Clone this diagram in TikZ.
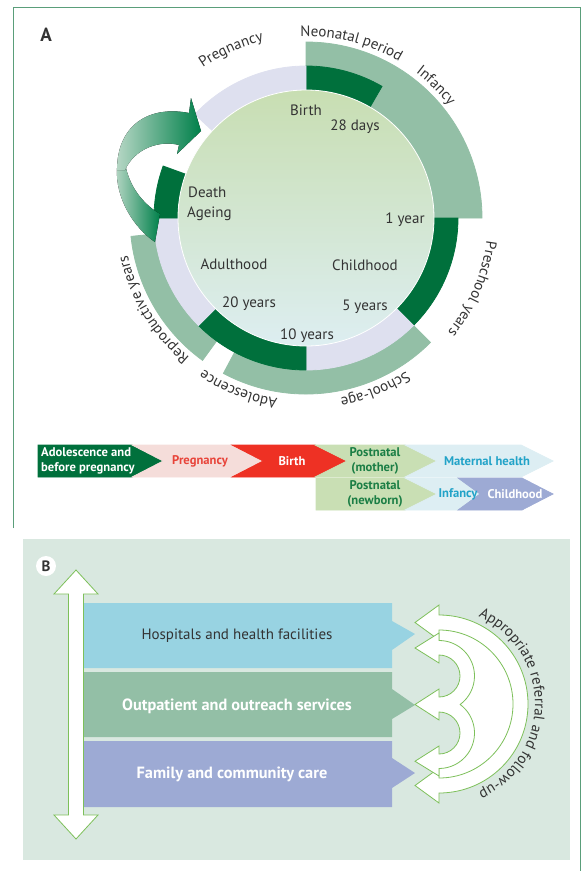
\documentclass[tikz,border=0pt]{standalone}
\usepackage{fontspec}
\setmainfont{PT Sans}
\usepackage{xcolor}
\definecolor{lcgreen}{HTML}{00703C}
\definecolor{lcmid}{HTML}{93BFA6}
\definecolor{lclav}{HTML}{DEE0EF}
\definecolor{lccore}{HTML}{C8DEB2}
\definecolor{lccorelow}{HTML}{DDEEF1}
\definecolor{lcfade}{HTML}{B5D6C4}
\definecolor{lcarrow}{HTML}{00804A}
\definecolor{lcpink}{HTML}{F5DDDA}
\definecolor{lcred}{HTML}{EE3124}
\definecolor{lcredtext}{HTML}{E8443A}
\definecolor{lcpale}{HTML}{C9DFB4}
\definecolor{lcgreentext}{HTML}{1B7E45}
\definecolor{lcice}{HTML}{DDEEF3}
\definecolor{lccyan}{HTML}{22A3C8}
\definecolor{lcblue}{HTML}{9DAAD4}
\definecolor{lcsky}{HTML}{98D3E2}
\definecolor{lcbg}{HTML}{D9E8E0}
\definecolor{lcline}{HTML}{7DC05A}
\definecolor{lcframe}{HTML}{5A9E7A}
\definecolor{lctext}{HTML}{333333}
\usetikzlibrary{calc, decorations.text}

\newcommand{\ringfont}{\fontsize{15}{17}\selectfont}
\newcommand{\carefont}{\bfseries\fontsize{16.3}{18}\selectfont}
\newcommand{\chevfont}{\bfseries\fontsize{12.6}{14.5}\selectfont}
% annulus piece: style, start angle, end angle, inner radius, outer radius
\newcommand{\ringseg}[5]{%
  \fill[seg, #1] ($(O)+(#2:#4)$) arc[start angle=#2, end angle=#3, radius=#4]
    -- ($(O)+(#3:#5)$) arc[start angle=#3, end angle=#2, radius=#5] -- cycle;}
% text set clockwise round a centre
\newcommand{\ringlabel}[5]{%
  \path[decorate, decoration={text along path, text align=center,
    text color=lctext, text={|\ringfont|#1}}]
    ($(#5)+(#2:#4)$) arc[start angle=#2, end angle=#3, radius=#4];}

\begin{document}
\begin{tikzpicture}[x=1pt, y=1pt,
    seg/.style={draw=white, line width=0.8pt},
    inlabel/.style={font=\ringfont, text=lctext, inner sep=0pt, anchor=base},
    chevron/.style={draw=white, line width=0.7pt},
    chevtxt/.style={font=\chevfont, inner sep=0pt, align=center},
    care/.style={font=\ringfont, inner sep=0pt},
    hollow/.style={fill=white, draw=lcline, line width=0.8pt}]

\useasboundingbox (0,0) rectangle (585,-871);
\draw[lcframe, line width=0.6pt] (13,-528) -- (13,-7) -- (580,-7) -- (580,-871);

\node[font=\bfseries\fontsize{19}{20}\selectfont, text=lctext] (panelA) at (46,-35) {A};

%% life cycle wheel
\coordinate (O) at (306,-218);

% outer ring
\ringseg{lcmid}{-118}{-45}{152pt}{176pt}
\ringseg{lcmid}{186}{234}{152pt}{176pt}
\fill[seg, lcmid] ($(O)+(0:128pt)$) arc[start angle=0, end angle=60, radius=128pt]
  -- ($(O)+(60:152pt)$) arc[start angle=60, end angle=90, radius=152pt]
  -- ($(O)+(90:176pt)$) arc[start angle=90, end angle=0, radius=176pt] -- cycle;

% middle ring
\ringseg{lcgreen}{60}{90}{128pt}{152pt}
\ringseg{lcgreen}{-45}{0}{128pt}{152pt}
\ringseg{lclav}{-90}{-45}{128pt}{152pt}
\ringseg{lcgreen}{-135}{-90}{128pt}{152pt}
\ringseg{lclav}{180}{225}{128pt}{152pt}
\ringseg{lcgreen}{160}{180}{128pt}{152pt}
\ringseg{lclav}{90}{137}{128pt}{152pt}

% core
\path[top color=lccore, bottom color=lccorelow, draw=white, line width=0.8pt]
  (O) circle[radius=128pt];

% loop arrow back to pregnancy
\fill[left color=lcfade, right color=lcarrow]
  (117,-168) .. controls (115,-198) and (134,-228) .. (155,-242)
  -- (160,-214) .. controls (146,-206) and (131,-190) .. (126,-168) -- cycle;
\fill[left color=lcfade, right color=lcarrow]
  (117,-170) .. controls (117,-126) and (148,-105) .. (189,-113)
  -- (191,-98) -- (201,-131) -- (177,-154) -- (179,-145)
  .. controls (160,-140) and (135,-148) .. (125,-170) -- cycle;

\ringlabel{Pregnancy}{132}{96}{182pt}{O}
\ringlabel{Neonatal period}{100}{51}{182pt}{O}
\ringlabel{Infancy}{62}{29}{182pt}{O}
\ringlabel{Preschool years}{5}{-51}{182pt}{O}
\ringlabel{School-age}{-45}{-91}{183pt}{O}
\ringlabel{Adolescence}{-88}{-135}{183pt}{O}
\ringlabel{Reproductive years}{-118}{-180}{182pt}{O}

\node[inlabel] (birth) at (306,-115) {Birth};
\node[inlabel] (days28) at (355,-130) {28 days};
\node[inlabel] (year1) at (405,-223) {1 year};
\node[inlabel] (childhood) at (365,-270) {Childhood};
\node[inlabel] (years5) at (365,-310) {5 years};
\node[inlabel] (years10) at (307,-339) {10 years};
\node[inlabel] (years20) at (249,-307) {20 years};
\node[inlabel] (adulthood) at (234,-269) {Adulthood};
\node[inlabel, anchor=base west] (death) at (188,-197) {Death};
\node[inlabel, anchor=base west] (ageing) at (187,-217) {Ageing};

%% continuum of care strip
\fill[chevron, lcgreen] (38,-445) -- (132,-445) -- (163,-461) -- (132,-477) -- (38,-477) -- cycle;
\fill[chevron, lcpink] (132,-445) -- (232,-445) -- (263,-461) -- (232,-477) -- (132,-477) -- (163,-461) -- cycle;
\fill[chevron, lcred] (232,-445) -- (315,-445) -- (347,-461) -- (315,-477) -- (232,-477) -- (263,-461) -- cycle;
\fill[chevron, lcpale] (315,-445) -- (405,-445) -- (437,-461) -- (405,-477) -- (315,-477) -- (347,-461) -- cycle;
\fill[chevron, lcice] (405,-445) -- (521,-445) -- (553,-461) -- (521,-477) -- (405,-477) -- (437,-461) -- cycle;
\fill[chevron, lcpale] (316,-478) -- (405,-478) -- (437,-494) -- (405,-510) -- (316,-510) -- cycle;
\fill[chevron, lcice] (405,-478) -- (458,-478) -- (480,-494) -- (458,-510) -- (405,-510) -- (437,-494) -- cycle;
\fill[chevron, lcblue] (458,-478) -- (522,-478) -- (553,-494) -- (522,-510) -- (458,-510) -- (480,-494) -- cycle;

\node[chevtxt, text=white, align=left, anchor=west] (prepreg) at (41,-461) {Adolescence and\\before pregnancy};
\node[chevtxt, text=lcredtext] (pregnancy) at (200,-461) {Pregnancy};
\node[chevtxt, text=white] (birthstep) at (292,-461) {Birth};
\node[chevtxt, text=lcgreentext] (postmother) at (375,-461) {Postnatal\\(mother)};
\node[chevtxt, text=lccyan] (maternal) at (487,-461) {Maternal health};
\node[chevtxt, text=lcgreentext] (postnewborn) at (375,-494) {Postnatal\\(newborn)};
\node[chevtxt, text=lccyan] (infancy) at (458,-494) {Infancy};
\node[chevtxt, text=white] (childstep) at (515,-494) {Childhood};

%% levels of care
\fill[lcbg] (23,-539) rectangle (570,-860);
\node[circle, fill=white, inner sep=0pt, minimum size=20pt,
  font=\bfseries\fontsize{15}{16}\selectfont, text=lctext] (panelB) at (46,-566) {B};

\fill[lcsky] (83,-603) -- (392,-603) -- (392,-621) -- (415,-634) -- (392,-650) -- (392,-668) -- (83,-668) -- cycle;
\fill[lcmid] (83,-672) -- (392,-672) -- (392,-689) -- (415,-705) -- (392,-719) -- (392,-737) -- (83,-737) -- cycle;
\fill[lcblue] (83,-741) -- (392,-741) -- (392,-758) -- (415,-773) -- (392,-788) -- (392,-807) -- (83,-807) -- cycle;

\node[care, text=lctext] (hospitals) at (237,-636) {Hospitals and health facilities};
\node[care, text=white, font=\carefont] (outpatient) at (237,-706) {Outpatient and outreach services};
\node[care, text=white, font=\carefont] (family) at (232,-774) {Family and community care};

\filldraw[hollow] (76,-570) -- (98,-594) -- (83.5,-594) -- (83.5,-815) -- (98,-815)
  -- (76,-839) -- (54,-815) -- (68.5,-815) -- (68.5,-594) -- (54,-594) -- cycle;

% referral arrows
\coordinate (R) at (439,-704);
\fill[white] (439,-630) arc[start angle=90, end angle=-90, radius=74pt]
  -- (439,-768.5) arc[start angle=-90, end angle=53.4, radius=35.5pt]
  arc[start angle=-53.4, end angle=90, radius=35.5pt] -- cycle;
\filldraw[hollow] (439,-615) arc[start angle=90, end angle=-90, radius=89pt]
  -- (439,-803) -- (415,-785.5) -- (439,-768) -- (439,-778)
  arc[start angle=-90, end angle=90, radius=74pt]
  -- (439,-640) -- (415,-622.5) -- (439,-605) -- cycle;
\filldraw[hollow] (439,-640.5) arc[start angle=90, end angle=-53.4, radius=35.5pt]
  arc[start angle=53.4, end angle=-90, radius=35.5pt]
  -- (439,-776) -- (415,-761.25) -- (439,-746) -- (439,-754)
  arc[start angle=-90, end angle=90, radius=21pt]
  -- (439,-720) -- (415,-704.5) -- (439,-689) -- (439,-697)
  arc[start angle=-90, end angle=90, radius=21pt]
  -- (439,-663) -- (415,-648) -- (439,-633) -- cycle;

\ringlabel{Appropriate referral and follow-up}{88}{-88}{96pt}{R}
\end{tikzpicture}
\end{document}
